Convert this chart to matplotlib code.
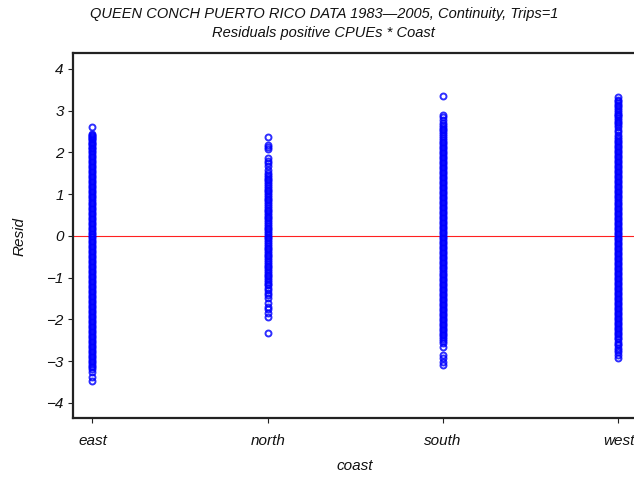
import matplotlib
matplotlib.use("Agg")
import matplotlib.pyplot as plt

# Coast categories and residuals of the positive-CPUE model for each coast
coasts = ["east", "north", "south", "west"]

east_resid = [
    2.60, 2.44, 2.42, 2.40, 2.37, 2.35, 2.32, 2.29, 2.26, 2.23, 2.20, 2.17, 2.14, 2.11,
    2.08, 2.04, 2.00, 1.96, 1.92, 1.88, 1.84, 1.80, 1.76, 1.72, 1.68, 1.64, 1.60, 1.56, 1.52,
    1.48, 1.44, 1.40, 1.36, 1.32, 1.28, 1.24, 1.20, 1.16, 1.12, 1.08, 1.04, 1.00, 0.96, 0.92,
    0.88, 0.84, 0.80, 0.76, 0.72, 0.68, 0.64, 0.60, 0.56, 0.52, 0.48, 0.44, 0.40, 0.36, 0.32,
    0.28, 0.24, 0.20, 0.16, 0.12, 0.08, 0.04, 0.01, -0.03, -0.07, -0.11, -0.15, -0.19, -0.23,
    -0.27, -0.31, -0.35, -0.39, -0.43, -0.47, -0.51, -0.55, -0.59, -0.63, -0.67, -0.71, -0.75,
    -0.79, -0.83, -0.87, -0.91, -0.95, -0.99, -1.03, -1.07, -1.11, -1.15, -1.19, -1.23, -1.27,
    -1.31, -1.35, -1.39, -1.43, -1.47, -1.51, -1.55, -1.59, -1.63, -1.67, -1.71, -1.75, -1.79,
    -1.83, -1.87, -1.91, -1.95, -1.99, -2.03, -2.07, -2.11, -2.15, -2.19, -2.23, -2.27, -2.31,
    -2.35, -2.39, -2.43, -2.47, -2.51, -2.55, -2.59, -2.63, -2.67, -2.71, -2.75,
    -2.79, -2.83, -2.87, -2.91, -2.95, -2.99, -3.03, -3.07, -3.11, -3.15, -3.19, -3.26,
    -3.38, -3.48,
]

north_resid = [
    2.38, 2.18, 2.13, 2.08, 1.87, 1.80, 1.75, 1.68, 1.58, 1.51, 1.45,
    1.41, 1.37, 1.33, 1.28, 1.24, 1.20, 1.15, 1.11, 1.07, 1.02, 0.98, 0.94, 0.89, 0.85, 0.81,
    0.76, 0.72, 0.68, 0.63, 0.59, 0.55, 0.50, 0.46, 0.42, 0.37, 0.33, 0.29, 0.24, 0.20, 0.16,
    0.11, 0.07, 0.03, -0.02, -0.06, -0.10, -0.15, -0.19, -0.23, -0.28, -0.32, -0.36, -0.41,
    -0.45, -0.49, -0.54, -0.58, -0.62, -0.67, -0.71, -0.75, -0.80, -0.84, -0.88, -0.93, -0.97,
    -1.01, -1.06, -1.10, -1.14, -1.18,
    -1.24, -1.29, -1.37, -1.41, -1.49, -1.60, -1.70, -1.75, -1.85, -1.94, -2.32,
]

south_resid = [
    3.35, 2.90, 2.85, 2.78, 2.70, 2.66, 2.62, 2.57, 2.53, 2.48, 2.44, 2.39, 2.35, 2.30, 2.26,
    2.22, 2.18, 2.14, 2.10, 2.06, 2.02, 1.98, 1.94, 1.90, 1.86, 1.82, 1.78, 1.74, 1.70, 1.66,
    1.62, 1.58, 1.54, 1.50, 1.46, 1.42, 1.38, 1.34, 1.30, 1.26, 1.22, 1.18, 1.14, 1.10, 1.06,
    1.02, 0.98, 0.94, 0.90, 0.86, 0.82, 0.78, 0.74, 0.70, 0.66, 0.62, 0.58, 0.54, 0.50, 0.46,
    0.42, 0.38, 0.34, 0.30, 0.26, 0.22, 0.18, 0.14, 0.10, 0.06, 0.02, -0.02, -0.06, -0.10,
    -0.14, -0.18, -0.22, -0.26, -0.30, -0.34, -0.38, -0.42, -0.46, -0.50, -0.54, -0.58, -0.62,
    -0.66, -0.70, -0.74, -0.78, -0.82, -0.86, -0.90, -0.94, -0.98, -1.02, -1.06, -1.10, -1.14,
    -1.18, -1.22, -1.26, -1.30, -1.34, -1.38, -1.42, -1.46, -1.50, -1.54, -1.58, -1.62, -1.66,
    -1.70, -1.74, -1.78, -1.82, -1.86, -1.90, -1.94, -1.98, -2.02, -2.06, -2.10, -2.14, -2.18,
    -2.22, -2.26, -2.30, -2.34, -2.38, -2.42,
    -2.46, -2.51, -2.56, -2.65, -2.85, -2.92, -3.02, -3.09,
]

west_resid = [
    3.32, 3.26, 3.22, 3.19, 3.14, 3.10, 3.07, 3.02, 2.97, 2.93, 2.90, 2.87, 2.83, 2.78, 2.73,
    2.70, 2.66, 2.60, 2.54, 2.48, 2.42, 2.37, 2.32, 2.28,
    2.24, 2.20, 2.16, 2.12, 2.08, 2.04, 2.00, 1.96, 1.92, 1.88, 1.84, 1.80, 1.76, 1.72, 1.68,
    1.64, 1.60, 1.56, 1.52, 1.48, 1.44, 1.40, 1.36, 1.32, 1.28, 1.24, 1.20, 1.16, 1.12, 1.08,
    1.04, 1.00, 0.96, 0.92, 0.88, 0.84, 0.80, 0.76, 0.72, 0.68, 0.64, 0.60, 0.56, 0.52, 0.48,
    0.44, 0.40, 0.36, 0.32, 0.28, 0.24, 0.20, 0.16, 0.12, 0.08, 0.04, 0.00, -0.04, -0.08,
    -0.12, -0.16, -0.20, -0.24, -0.28, -0.32, -0.36, -0.40, -0.44, -0.48, -0.52, -0.56, -0.60,
    -0.64, -0.68, -0.72, -0.76, -0.80, -0.84, -0.88, -0.92, -0.96, -1.00, -1.04, -1.08, -1.12,
    -1.16, -1.20, -1.24, -1.28, -1.32, -1.36, -1.40, -1.44, -1.48, -1.52, -1.56, -1.60, -1.64,
    -1.68, -1.72, -1.76, -1.80, -1.84, -1.88, -1.92, -1.96, -2.00, -2.04, -2.08, -2.12, -2.16,
    -2.20, -2.24, -2.28, -2.32, -2.36, -2.40, -2.44, -2.48,
    -2.54, -2.58, -2.61, -2.68, -2.72, -2.78, -2.85, -2.92,
]

resid_by_coast = [east_resid, north_resid, south_resid, west_resid]
y_ticks = [-4, -3, -2, -1, 0, 1, 2, 3, 4]

title_1 = "QUEEN CONCH PUERTO RICO DATA 1983\u20142005, Continuity, Trips=1"
title_2 = "Residuals positive CPUEs * Coast"

FONT = "Liberation Sans"
plt.rcParams["font.family"] = [FONT, "DejaVu Sans"]
plt.rcParams["font.style"] = "italic"

W, H = 634, 480
fig = plt.figure(figsize=(W / 100, H / 100), dpi=100)
fig.patch.set_facecolor("white")

# Plot frame: the right-hand side runs past the figure edge
ax = fig.add_axes([73 / W, 62 / H, 0.8911, 365 / H])

ax.axhline(0, color="#ff2020", lw=0.8, zorder=1)

# Semi-transparent open circles: isolated points read lighter,
# overlapping points build up into a solid strip
for i, vals in enumerate(resid_by_coast):
    ax.plot([i] * len(vals), vals, linestyle="none", marker="o", ms=4.3,
            mfc="none", mec="#0000ff", mew=1.4, alpha=0.82, zorder=2,
            clip_on=False)

ax.set_xlim(-0.1112, 3.1112)
ax.set_ylim(-4.36, 4.38)
ax.set_xticks(range(len(coasts)))
ax.set_xticklabels(coasts)
ax.set_yticks(y_ticks)
ax.set_yticklabels([str(t).replace("-", "\u2212") for t in y_ticks])

for side in ["left", "bottom", "top", "right"]:
    ax.spines[side].set_linewidth(1.6)
    ax.spines[side].set_color("#222222")

ax.tick_params(axis="both", direction="out", length=3.6, width=0.8,
               color="#222222", labelsize=11, labelcolor="#111111")
ax.tick_params(axis="y", pad=3)
ax.tick_params(axis="x", pad=8)
for lbl in ax.get_xticklabels() + ax.get_yticklabels():
    lbl.set_fontstyle("italic")

fig.text(324 / W, 1 - 14 / H, title_1, ha="center", va="center",
         fontsize=10.5, style="italic", color="#111111")
fig.text(323 / W, 1 - 33 / H, title_2, ha="center", va="center",
         fontsize=10.5, style="italic", color="#111111")
fig.text(20 / W, 1 - 236 / H, "Resid", rotation=90, ha="center", va="center",
         fontsize=11, style="italic", color="#111111")
fig.text(355 / W, 1 - 466 / H, "coast", ha="center", va="center",
         fontsize=11, style="italic", color="#111111")

fig.savefig("out.png", dpi=100)
